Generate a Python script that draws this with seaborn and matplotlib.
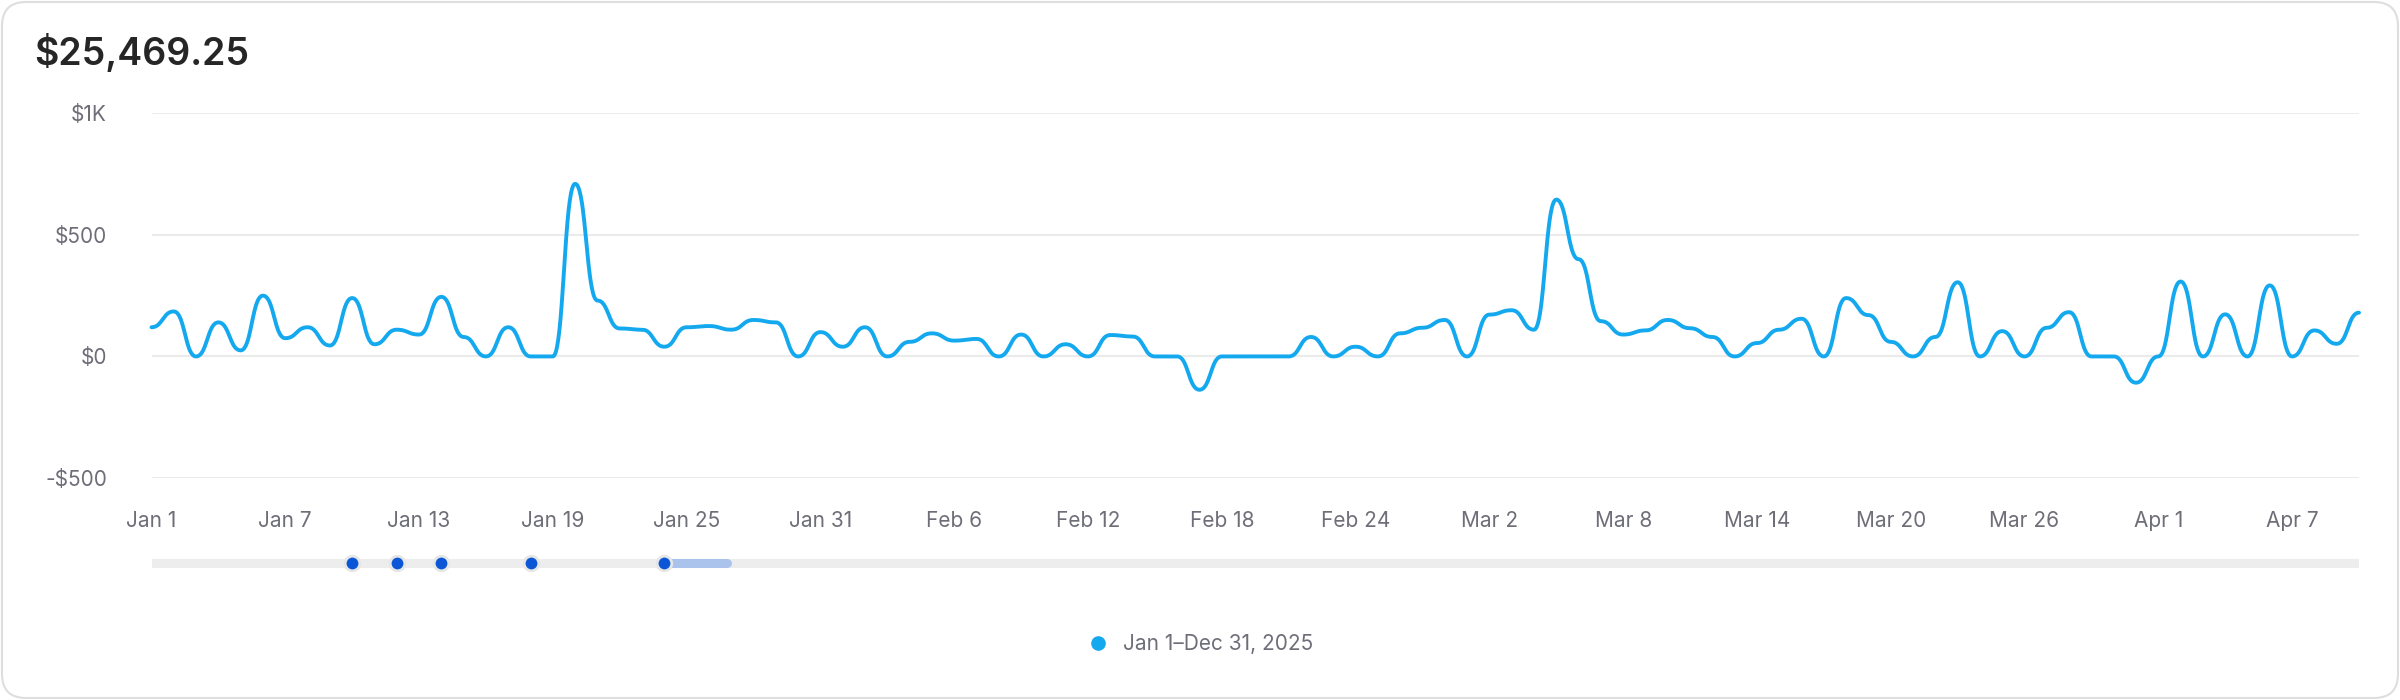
import numpy as np
import pandas as pd
import matplotlib.pyplot as plt
import matplotlib.transforms as mtransforms
from matplotlib.patches import FancyBboxPatch
from matplotlib.lines import Line2D
import seaborn as sns

sns.set_style("white")
plt.rcParams["font.family"] = ["Inter", "DejaVu Sans"]

# daily revenue, Jan 1 .. Apr 10 2025
start_date = "2025-01-01"
revenue = [120, 185, 0, 140, 25, 250, 75, 120, 45, 240,
           50, 110, 90, 245, 80, 0, 120, 0, 0, 710,
           230, 115, 110, 40, 120, 125, 110, 150, 140, 0,
           100, 40, 120, 0, 60, 95, 65, 72, 0, 90,
           0, 50, 0, 88, 82, 0, 0, -137, 0, 0,
           0, 0, 80, 0, 40, 0, 95, 118, 150, 0,
           172, 190, 110, 645, 400, 145, 90, 107, 150, 116,
           80, 0, 55, 110, 155, 0, 240, 170, 60, 0,
           80, 305, 0, 104, 0, 118, 182, 0, 0, -108,
           0, 308, 0, 173, 0, 292, 0, 107, 52, 180]
total_label = "$25,469.25"
legend_label = "Jan 1\u2013Dec 31, 2025"
y_ticks = [-500, 0, 500, 1000]
y_tick_labels = ["-$500", "$0", "$500", "$1K"]
slider_days = [9, 11, 13, 17, 23]
slider_range = [23, 25.8]

line_color = "#14a9ef"
text_gray = "#6e6e78"
grid_color = "#ebebeb"

dates = pd.date_range(start_date, periods=len(revenue), freq="D")
days = np.arange(len(revenue))


def bump_curve(y, n=40):
    # horizontal-tangent bezier between points (like d3 curveBumpX), only for drawing
    y = np.asarray(y, dtype=float)
    t = np.linspace(0, 1, n, endpoint=False)
    bx = 1.5 * t * (1 - t) + t**3
    w0 = (1 - t)**3 + 3 * (1 - t)**2 * t
    w1 = 1 - w0
    xs, ys = [], []
    for i in range(len(y) - 1):
        xs.append(i + bx)
        ys.append(w0 * y[i] + w1 * y[i + 1])
    xs.append([len(y) - 1])
    ys.append([y[-1]])
    return np.concatenate(xs), np.concatenate(ys)


cx, cy = bump_curve(revenue)
curve = pd.DataFrame({"day": cx, "value": cy})

fig = plt.figure(figsize=(24, 7), dpi=100)
fig.patch.set_facecolor("white")

card = FancyBboxPatch((2, 2), 2396, 696, boxstyle="round,pad=0,rounding_size=24",
                      transform=mtransforms.IdentityTransform(),
                      fill=False, edgecolor="#dedede", linewidth=1.5, zorder=-1)
fig.patches.append(card)

fig.text(34 / 2400, 1 - 54 / 700, total_label, fontsize=27, fontweight="semibold",
         color="#262626", va="center", ha="left")

ax = fig.add_axes([151.5 / 2400, 1 - 478 / 700, (2359 - 151.5) / 2400, (478 - 113.3) / 700])
sns.lineplot(data=curve, x="day", y="value", ax=ax, color=line_color, linewidth=2.8,
             sort=False, estimator=None)
ax.lines[-1].set_clip_on(False)
ax.lines[-1].set_solid_capstyle("round")
ax.set_xlim(0, len(revenue) - 1)
ax.set_ylim(-500, 1000)
ax.set_yticks(y_ticks)
ax.set_yticklabels(y_tick_labels)
x_ticks = days[::6]
ax.set_xticks(x_ticks)
ax.set_xticklabels([f"{dates[i]:%b} {dates[i].day}" for i in x_ticks])
ax.grid(axis="y", color=grid_color, linewidth=1.5)
ax.grid(axis="x", visible=False)
ax.set_axisbelow(True)
for sp in ax.spines.values():
    sp.set_visible(False)
ax.tick_params(axis="y", length=0, pad=32, labelsize=15, labelcolor=text_gray)
ax.tick_params(axis="x", length=0, pad=24, labelsize=15, labelcolor=text_gray)
ax.set_xlabel("")
ax.set_ylabel("")

# range slider under the chart
sax = fig.add_axes([151.5 / 2400, 1 - 575 / 700, (2359 - 151.5) / 2400, 24 / 700])
sax.plot([0, len(revenue) - 1], [0, 0], color="#ededed", linewidth=6.5, solid_capstyle="round")
sax.plot(slider_range, [0, 0], color="#a9c3ec", linewidth=6.5, solid_capstyle="round")
sns.scatterplot(x=slider_days, y=[0] * len(slider_days), ax=sax, s=110, color="#0a56d6",
                edgecolor="#e6e6e6", linewidth=2, zorder=3)
sax.set_xlim(0, len(revenue) - 1)
sax.set_ylim(-1, 1)
sax.axis("off")

handle = Line2D([], [], marker="o", linestyle="", color=line_color, markersize=9.5)
fig.legend(handles=[handle], labels=[legend_label], loc="center",
           bbox_to_anchor=(0.5, 1 - 644 / 700), frameon=False, fontsize=15,
           labelcolor=text_gray, handletextpad=0.7, handlelength=1.0)

fig.savefig("out.png", dpi=100)
